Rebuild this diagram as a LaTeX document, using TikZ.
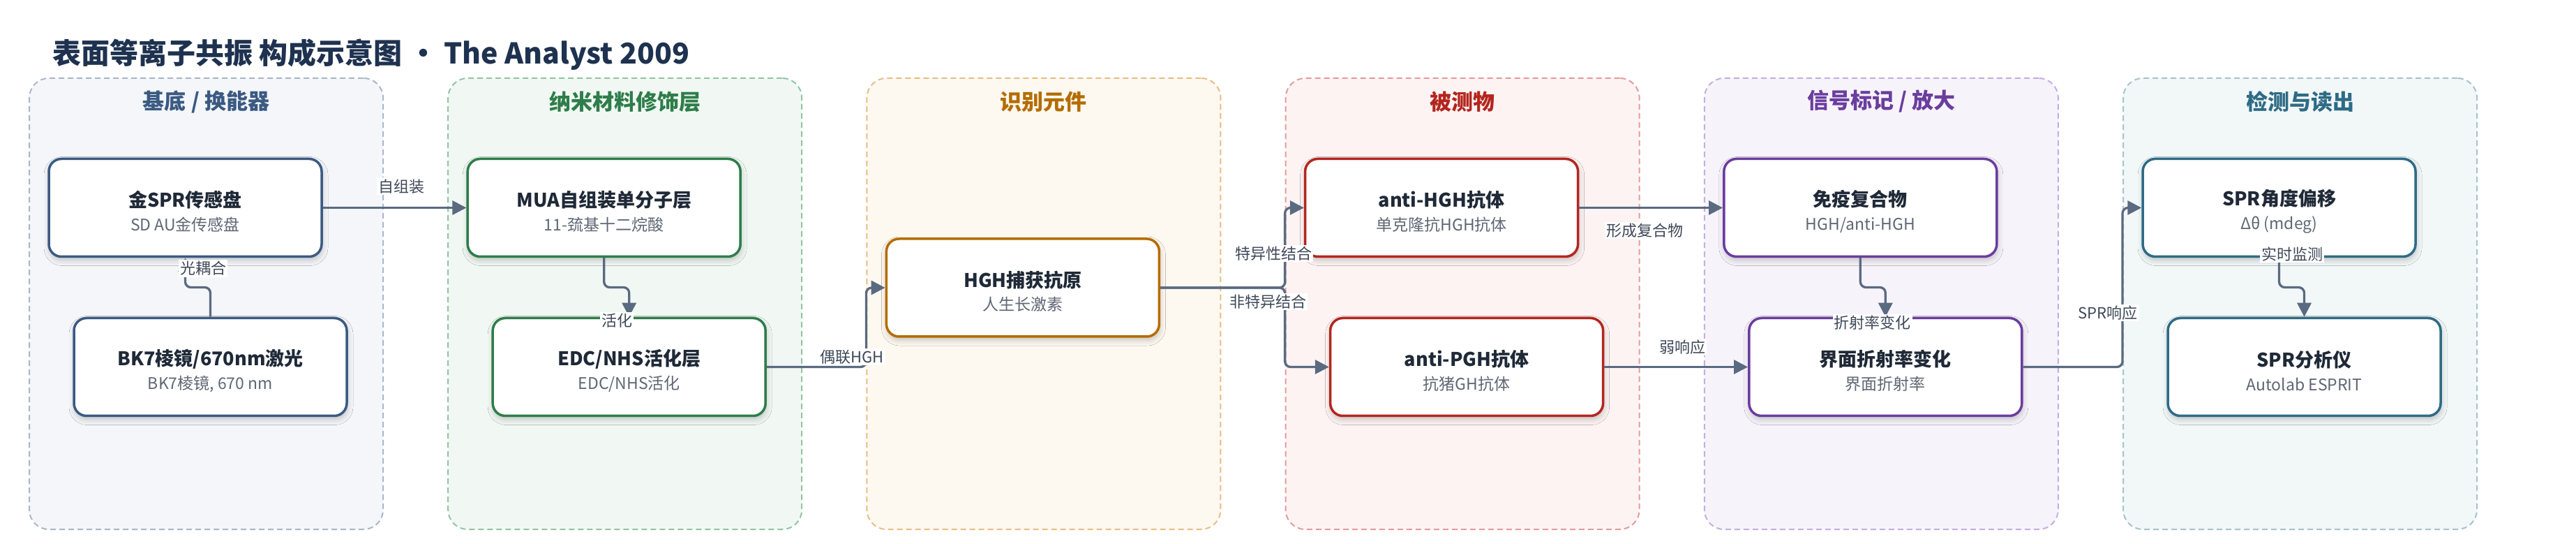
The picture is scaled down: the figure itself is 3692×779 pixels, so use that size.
\documentclass[tikz,border=0pt]{standalone}
\usepackage{fontspec}
\setmainfont{Noto Sans CJK SC}
\usetikzlibrary{arrows.meta,shadows.blur,calc}

\definecolor{ttl}{HTML}{1E3250}
\definecolor{lnk}{HTML}{5A6A80}
\definecolor{labg}{HTML}{3E4858}
\definecolor{subg}{HTML}{5F6774}
\definecolor{hdg}{HTML}{1F2937}
% panel fill / dashes / title colour
\definecolor{pAf}{HTML}{F4F6FA}\definecolor{pAd}{HTML}{A9B7CA}\definecolor{pAt}{HTML}{3B5A82}
\definecolor{pBf}{HTML}{F1F8F3}\definecolor{pBd}{HTML}{94C4A4}\definecolor{pBt}{HTML}{2E7D4A}
\definecolor{pCf}{HTML}{FDF8F0}\definecolor{pCd}{HTML}{E5BF86}\definecolor{pCt}{HTML}{B46C00}
\definecolor{pDf}{HTML}{FDF3F3}\definecolor{pDd}{HTML}{E49C9C}\definecolor{pDt}{HTML}{B3261E}
\definecolor{pEf}{HTML}{F7F3FB}\definecolor{pEd}{HTML}{C3AFE0}\definecolor{pEt}{HTML}{6A3D9E}
\definecolor{pFf}{HTML}{F2F7F8}\definecolor{pFd}{HTML}{A7C3CC}\definecolor{pFt}{HTML}{2E6B85}

\newcommand{\hd}[1]{{\bfseries\fontsize{13.5}{16.75}\selectfont\color{hdg}\rule{0pt}{17pt}#1}}

\begin{document}
\begin{tikzpicture}[x=0.5pt, y=-0.5pt]
    \tikzstyle{panel}=[rounded corners=14pt, dash pattern=on 4pt off 2.5pt, line width=1pt, minimum width=253.5pt, minimum height=323pt, inner sep=0pt]
    \tikzstyle{ptitle}=[font=\bfseries\fontsize{15.5}{16}\selectfont]
    \tikzstyle{box}=[rounded corners=9pt, fill=white, line width=1.75pt, minimum width=195.5pt, minimum height=70pt, align=center, text=subg, font=\fontsize{11.5}{16.75}\selectfont, blur shadow={shadow xshift=0.5pt, shadow yshift=-2.5pt, shadow blur radius=4pt, shadow opacity=22}]
    \tikzstyle{conn}=[draw=lnk, line width=1.65pt, rounded corners=4pt, -{Triangle[length=10pt,width=10pt]}]
    \tikzstyle{lab}=[fill=white, inner sep=1pt, text=labg, font=\fontsize{11}{12}\selectfont]

\useasboundingbox (0,0) rectangle (3692,779);

\node[anchor=west, inner sep=0pt, text=ttl, font=\bfseries\fontsize{20.5}{22}\selectfont] (title) at (75,78.5) {表面等离子共振 构成示意图 • The Analyst 2009};

% columns
\node[panel, draw=pAd, fill=pAf] (p1) at (295.5,435) {};
\node[panel, draw=pBd, fill=pBf] (p2) at (895.7,435) {};
\node[panel, draw=pCd, fill=pCf] (p3) at (1495.9,435) {};
\node[panel, draw=pDd, fill=pDf] (p4) at (2096.1,435) {};
\node[panel, draw=pEd, fill=pEf] (p5) at (2696.3,435) {};
\node[panel, draw=pFd, fill=pFf] (p6) at (3296.5,435) {};
\node[ptitle, text=pAt] (t1) at (295.5,145.5) {基底 / 换能器};
\node[ptitle, text=pBt] (t2) at (895.7,145.5) {纳米材料修饰层};
\node[ptitle, text=pCt] (t3) at (1495.9,145.5) {识别元件};
\node[ptitle, text=pDt] (t4) at (2096.1,145.5) {被测物};
\node[ptitle, text=pEt] (t5) at (2696.3,145.5) {信号标记 / 放大};
\node[ptitle, text=pFt] (t6) at (3296.5,145.5) {检测与读出};

% blocks
\node[box, draw=pAt] (spr) at (265.5,297.5) {\hd{金SPR传感盘}\\SD AU金传感盘};
\node[box, draw=pAt] (bk7) at (301.5,525.5) {\hd{BK7棱镜/670nm激光}\\BK7棱镜, 670 nm};
\node[box, draw=pBt] (mua) at (865.7,297.5) {\hd{MUA自组装单分子层}\\11-巯基十二烷酸};
\node[box, draw=pBt] (edc) at (901.7,525.5) {\hd{EDC/NHS活化层}\\EDC/NHS活化};
\node[box, draw=pCt] (hgh) at (1465.9,412) {\hd{HGH捕获抗原}\\人生长激素};
\node[box, draw=pDt] (ahgh) at (2066.1,297.5) {\hd{anti-HGH抗体}\\单克隆抗HGH抗体};
\node[box, draw=pDt] (apgh) at (2102.1,525.5) {\hd{anti-PGH抗体}\\抗猪GH抗体};
\node[box, draw=pEt] (cplx) at (2666.3,297.5) {\hd{免疫复合物}\\HGH/anti-HGH};
\node[box, draw=pEt] (ri) at (2702.3,525.5) {\hd{界面折射率变化}\\界面折射率};
\node[box, draw=pFt] (ang) at (3266.5,297.5) {\hd{SPR角度偏移}\\Δθ (mdeg)};
\node[box, draw=pFt] (ana) at (3302.5,525.5) {\hd{SPR分析仪}\\Autolab ESPRIT};

% links
\draw[conn] (bk7.north) |- ($(bk7.north)!.5!(spr.south)$) -| (spr.south);
\draw[conn] (spr) -- (mua);
\draw[conn] (mua.south) |- ($(mua.south)!.5!(edc.north)$) -| (edc.north);
\draw[conn] (edc.east) -- (edc.east -| p3.west) |- (hgh.west);
\draw[conn] (hgh.east) -- (hgh.east -| p4.west) |- (ahgh.west);
\draw[conn] (hgh.east) -- (hgh.east -| p4.west) |- (apgh.west);
\draw[conn] (ahgh) -- (cplx);
\draw[conn] (apgh) -- (ri);
\draw[conn] (cplx.south) |- ($(cplx.south)!.5!(ri.north)$) -| (ri.north);
\draw[conn] (ri.east) -- (ri.east -| p6.west) |- (ang.west);
\draw[conn] (ang.south) |- ($(ang.south)!.5!(ana.north)$) -| (ana.north);

\node[lab] (l1) at (291,384.5) {光耦合};
\node[lab] (l2) at (575,266.7) {自组装};
\node[lab] (l3) at (884,459) {活化};
\node[lab] (l4) at (1221,511) {偶联HGH};
\node[lab] (l5) at (1825,363) {特异性结合};
\node[lab] (l6) at (1817,431.7) {非特异结合};
\node[lab] (l7) at (2357,330) {形成复合物};
\node[lab] (l8) at (2411,497) {弱响应};
\node[lab] (l9) at (2683.5,462) {折射率变化};
\node[lab] (l10) at (3021,448) {SPR响应};
\node[lab] (l11) at (3285,364) {实时监测};
\end{tikzpicture}
\end{document}
